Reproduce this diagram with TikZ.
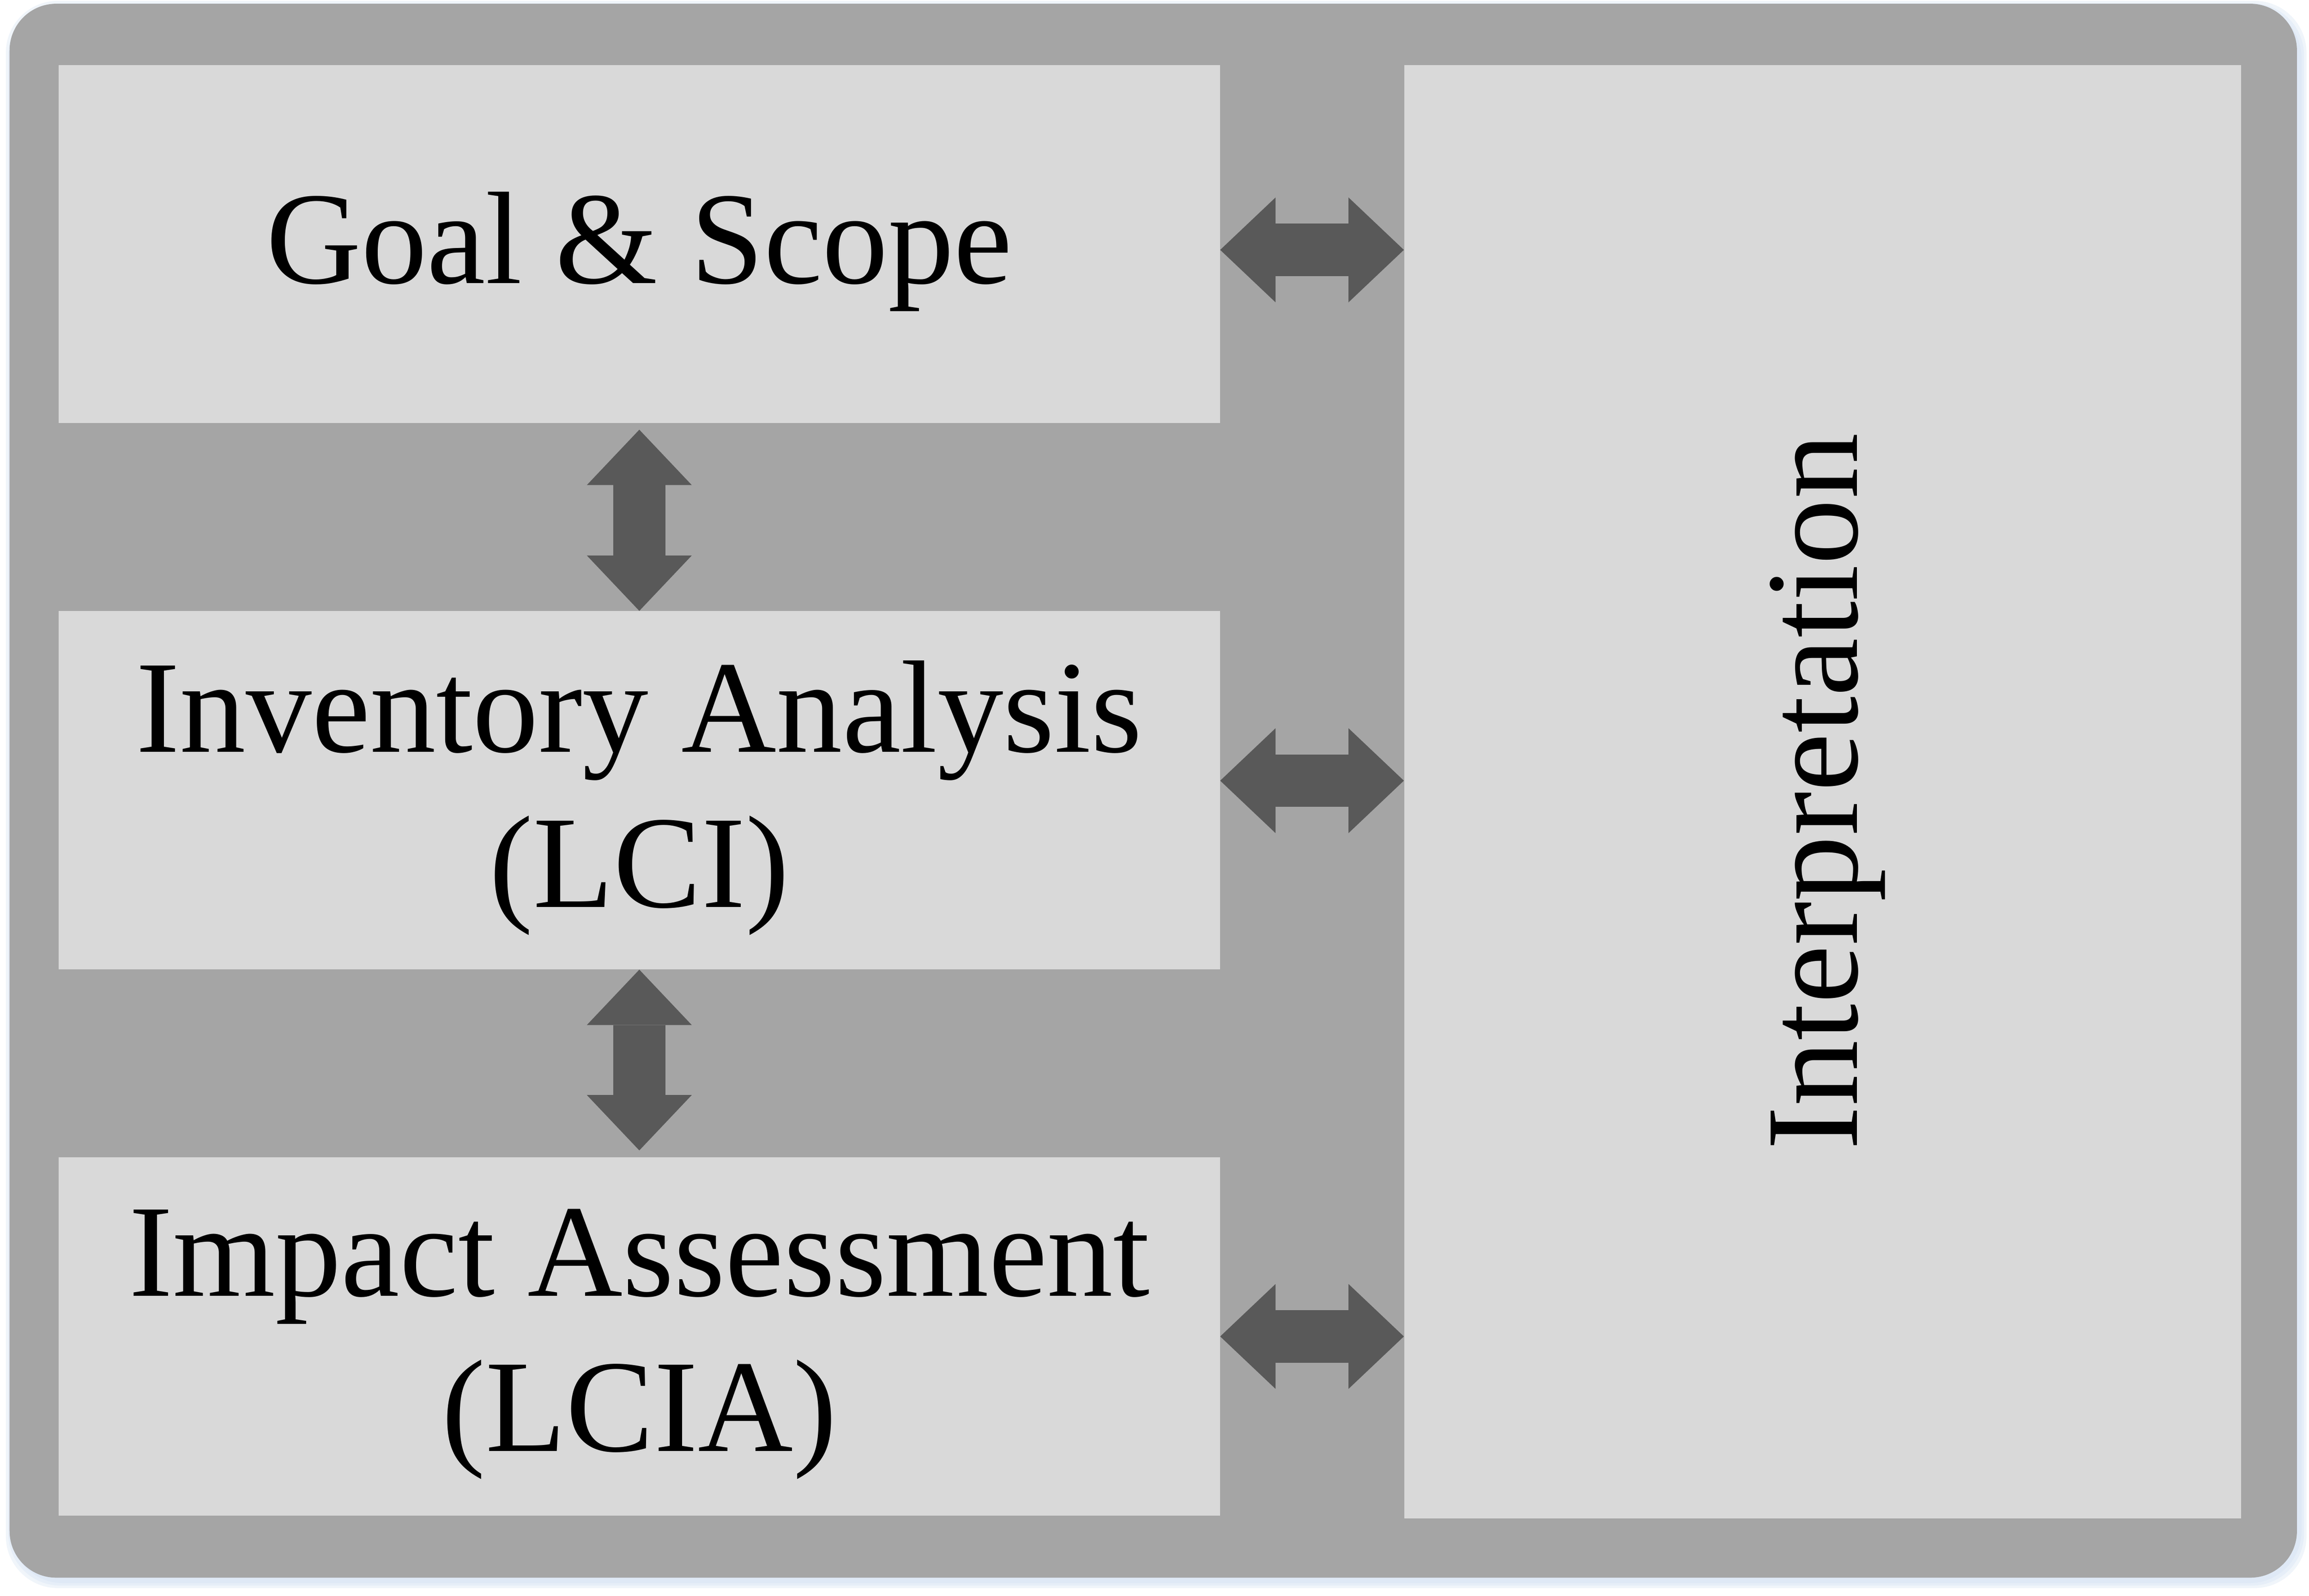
\documentclass[tikz,border=0pt]{standalone}
\usepackage{fontspec}
\setmainfont{Liberation Serif}
\usetikzlibrary{positioning, arrows.meta}

\definecolor{framegray}{HTML}{A5A5A5}
\definecolor{boxgray}{HTML}{D9D9D9}
\definecolor{arrowgray}{HTML}{595959}
\definecolor{glowblue}{HTML}{D3E1F2}

\begin{document}
\begin{tikzpicture}[node distance=4.5cm,
    phase/.style={fill=boxgray, minimum width=27.88cm, minimum height=8.6cm, inner sep=0pt, align=center, text depth=0.3cm, font=\fontsize{90}{106}\selectfont},
    dblarrow/.style={color=arrowgray, line width=1.26cm, arrows={Triangle[length=1.33cm,width=2.52cm,line width=0pt]-Triangle[length=1.33cm,width=2.52cm,line width=0pt]}}]
    \useasboundingbox (0,0) rectangle (55.44,-38.31);
    % soft glow and frame
    \foreach \g in {0.16,0.1,0.04}
        \fill[glowblue, opacity=0.35, rounded corners=1.25cm] (0.3-\g,-0.18+\g) rectangle (55.22+\g,-37.97-\g);
    \fill[framegray, rounded corners=1.12cm] (0.23,-0.09) rectangle (55.15,-37.88);

    \node[phase] (gs) at (15.35,-5.86) {Goal \& Scope};
    \node[phase] (lci) [below=of gs] {Inventory Analysis\\(LCI)};
    \node[phase] (lcia) [below=of lci] {Impact Assessment\\(LCIA)};
    \node[phase, minimum width=20.09cm, minimum height=34.9cm] (interp) [right=4.41cm of gs.north east, anchor=north west] {};
    \node[rotate=90, font=\fontsize{90}{106}\selectfont] (interplabel) at ([xshift=0.12cm]interp.center) {Interpretation};

    \draw[dblarrow] ([yshift=-1.5mm]gs.south) -- (lci.north);
    \draw[dblarrow] (lci.south) -- ([yshift=1.6mm]lcia.north);
    \draw[dblarrow] ([yshift=-1.4mm]gs.east) -- ([yshift=-1.4mm]gs.east -| interp.west);
    \draw[dblarrow] ([yshift=2.3mm]lci.east) -- ([yshift=2.3mm]lci.east -| interp.west);
    \draw[dblarrow] (lcia.east) -- (lcia.east -| interp.west);
\end{tikzpicture}
\end{document}
